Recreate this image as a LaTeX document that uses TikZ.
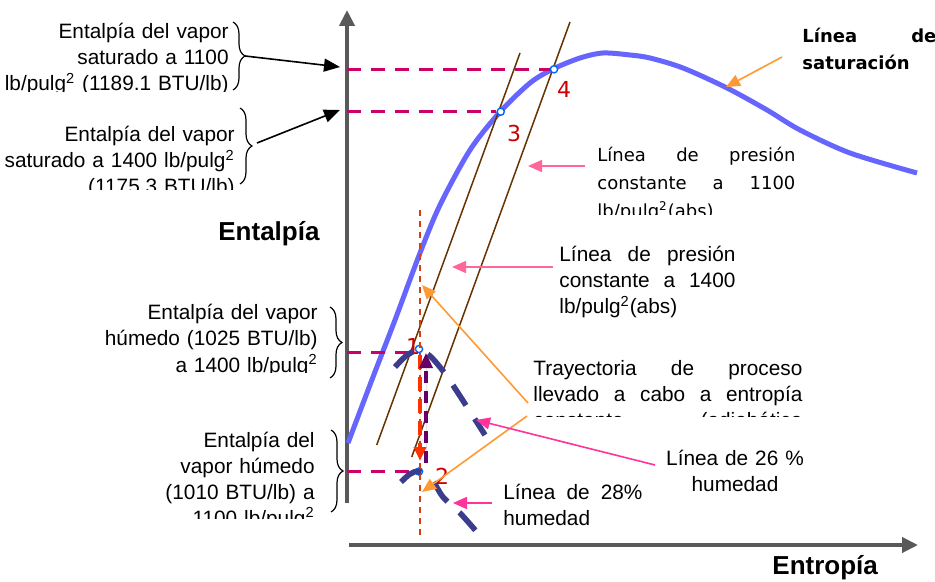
\documentclass[tikz,border=0pt]{standalone}
\usepackage{fontspec}
\setmainfont{Liberation Sans}
\newfontfamily\tahomaFont{DejaVu Sans}
\usetikzlibrary{arrows.meta,decorations.pathreplacing}

\definecolor{satBlue}{RGB}{102,102,255}
\definecolor{presBrown}{RGB}{102,51,0}
\definecolor{enthMag}{RGB}{204,0,102}
\definecolor{axisGray}{RGB}{89,89,89}
\definecolor{humBlue}{RGB}{60,60,140}
\definecolor{procRed}{RGB}{255,51,0}
\definecolor{procPurple}{RGB}{102,0,102}
\definecolor{isoRed}{RGB}{214,64,16}
\definecolor{notePink}{RGB}{255,102,153}
\definecolor{noteHot}{RGB}{255,51,153}
\definecolor{noteOrange}{RGB}{255,153,51}
\definecolor{ptBlue}{RGB}{0,102,255}
\definecolor{numRed}{RGB}{204,0,0}

\begin{document}
\begin{tikzpicture}[x=0.5pt, y=-0.5pt,
txtLeft/.style={inner sep=0, align=right, anchor=base east, font={\fontsize{10.4}{13}\selectfont}},
txtRight/.style={inner sep=0, align=left, anchor=base west, font={\fontsize{10.4}{13}\selectfont}},
txtTah/.style={inner sep=0, align=left, anchor=base west, font={\tahomaFont\fontsize{9}{14}\selectfont}},
txtTahBold/.style={inner sep=0, align=left, anchor=base west, font={\tahomaFont\bfseries\fontsize{9}{13.5}\selectfont}},
axisLbl/.style={inner sep=0, anchor=base west, font={\bfseries\fontsize{13}{15}\selectfont}},
numLbl/.style={inner sep=0, text=numRed, font={\tahomaFont\fontsize{11}{13}\selectfont}},
axisLine/.style={draw=axisGray, line width=2pt, -{Triangle[length=8pt, width=7.5pt]}},
lineSat/.style={draw=satBlue, line width=2.5pt, line join=round},
linePres/.style={draw=presBrown, line width=0.75pt},
lineEnth/.style={draw=enthMag, line width=1.5pt, dash pattern=on 7pt off 5pt},
lineIso/.style={draw=isoRed, line width=1pt, dash pattern=on 3pt off 2.5pt},
lineHum/.style={draw=humBlue, line width=2.8pt, dash pattern=on 12pt off 8pt},
arrProcDown/.style={draw=procRed, fill=procRed, line width=1.8pt, dash pattern=on 7pt off 4pt, -{Triangle[length=7pt, width=6pt]}},
arrProcUp/.style={draw=procPurple, fill=procPurple, line width=1.7pt, dash pattern=on 6pt off 4pt, -{Triangle[length=7.5pt, width=6.5pt]}},
arrBlack/.style={draw=black, line width=0.8pt, -{Triangle[length=8pt, width=6.5pt]}},
arrPink/.style={draw=notePink, line width=0.8pt, -{Triangle[length=7pt, width=6pt]}},
arrHot/.style={draw=noteHot, line width=0.8pt, -{Triangle[length=7pt, width=6pt]}},
arrOrange/.style={draw=noteOrange, line width=0.8pt, -{Triangle[length=7pt, width=6pt]}},
braceLine/.style={draw=black, line width=0.6pt, decorate, decoration={brace, amplitude=6pt}},
ptCirc/.style={circle, draw=ptBlue, fill=white, line width=0.7pt, inner sep=0, minimum size=3.6pt}]

\useasboundingbox (0,0) rectangle (935,582);

% axes
\coordinate (axisBot) at (347,503);
\coordinate (axisTop) at (347,10);
\coordinate (axisLeft) at (349,545);
\coordinate (axisRight) at (918,545);
\draw[axisLine] (axisBot) -- (axisTop);
\draw[axisLine] (axisLeft) -- (axisRight);

\node[axisLbl] (lblEnth) at (218,241) {Entalpía};
\node[axisLbl] (lblEntr) at (772,574) {Entropía};

% saturation curve and constant pressure lines
\draw[lineSat] plot[smooth] coordinates {(348,443) (373,377) (395,320) (420,253) (440,205) (470,150) (500,112) (530,83) (553,69) (580,58) (603,53) (630,55) (650,58) (683,68) (727,88) (767,110) (800,130) (850,153) (917,173)};

\coordinate (presLowA) at (376.7,445);
\coordinate (presTopA) at (520,53);
\coordinate (presLowB) at (411.7,457);
\coordinate (presTopB) at (570,22);
\draw[linePres] (presLowA) -- (presTopA);
\draw[linePres] (presLowB) -- (presTopB);

% state points
\node[ptCirc] (ptThree) at (500.7,111.7) {};
\node[ptCirc] (ptFour) at (554,69.3) {};
\node[ptCirc] (ptOne) at (419,349) {};
\node[ptCirc] (ptTwo) at (419,471.5) {};

\coordinate (axisFour) at (347,69.3);
\coordinate (axisThree) at (347,111.7);
\coordinate (axisOne) at (347,352);
\coordinate (axisTwo) at (347,471.5);
\draw[lineEnth] (axisFour) -- (ptFour.west);
\draw[lineEnth] (axisThree) -- (ptThree.west);
\draw[lineEnth] (axisOne) -- (axisOne -| ptOne.west);
\draw[lineEnth] (axisTwo) -- (ptTwo.west);

\coordinate (isoTop) at (419.5,210);
\coordinate (isoBot) at (419.5,535);
\draw[lineIso] (isoTop) -- (isoBot);

\node[numLbl] (lblThree) at (514,133) {3};
\node[numLbl] (lblFour) at (564,89) {4};
\node[numLbl] (lblOne) at (413,346) {1};
\node[numLbl] (lblTwo) at (442,476) {2};

% humidity lines
\draw[lineHum] plot[smooth] coordinates {(395,367) (406,356) (418,350) (430,356) (446,375) (469,410) (485,435)};
\draw[lineHum] plot[smooth] coordinates {(401,482) (410,474) (419,471.5) (432,480) (443,497) (460,513) (476,531)};

% process arrows
\coordinate (procDownA) at (420,355);
\coordinate (procDownB) at (420,461);
\coordinate (procUpA) at (426,463);
\coordinate (procUpB) at (426,353);
\draw[arrProcDown] (procDownA) -- (procDownB);
\draw[arrProcUp] (procUpA) -- (procUpB);

% left texts
\begin{scope}
\clip (0,0) rectangle (232,91.5);
\node[txtLeft, text width=115pt] (txtSatOne) at (229,39) {Entalpía del vapor\\ saturado a 1100\\ lb/pulg\textsuperscript{2} (1189.1 BTU/lb)};
\end{scope}
\begin{scope}
\clip (0,100) rectangle (238,190);
\node[txtLeft, text width=115pt] (txtSatTwo) at (235,142) {Entalpía del vapor\\ saturado a 1400 lb/pulg\textsuperscript{2}\\ (1175.3 BTU/lb)};
\end{scope}
\begin{scope}
\clip (0,296) rectangle (322,372.5);
\node[txtLeft, text width=115pt] (txtHumOne) at (318,320) {Entalpía del vapor\\ húmedo (1025 BTU/lb)\\ a 1400 lb/pulg\textsuperscript{2}};
\end{scope}
\begin{scope}
\clip (0,425) rectangle (320,518);
\node[txtLeft, text width=115pt] (txtHumTwo) at (315,447) {Entalpía del\\ vapor húmedo\\ (1010 BTU/lb) a\\ 1100 lb/pulg\textsuperscript{2}};
\end{scope}

\coordinate (brOneTop) at (233,22);
\coordinate (brOneBot) at (233,90);
\coordinate (brOneTip) at (245,56);
\coordinate (brTwoTop) at (240,108);
\coordinate (brTwoBot) at (240,184);
\coordinate (brTwoTip) at (257,143);
\coordinate (brThreeTop) at (330,307);
\coordinate (brThreeBot) at (330,378);
\coordinate (brFourTop) at (331,430);
\coordinate (brFourBot) at (331,512);
\draw[braceLine] (brOneTop) -- (brOneBot);
\draw[braceLine] (brTwoTop) -- (brTwoBot);
\draw[braceLine] (brThreeTop) -- (brThreeBot);
\draw[braceLine] (brFourTop) -- (brFourBot);

\coordinate (axisSatOne) at (340,67);
\coordinate (axisSatTwo) at (340,110);
\draw[arrBlack] (brOneTip) -- (axisSatOne);
\draw[arrBlack] (brTwoTip) -- (axisSatTwo);

% right texts
\node[txtTahBold, text width=67pt] (txtSatLine) at (802,42.7) {Línea \hfill de\\ saturación};
\begin{scope}
\clip (590,140) rectangle (805,215);
\node[txtTah, text width=99pt] (txtPresOne) at (597,162) {Línea \hfill de \hfill presión\\ constante \hfill a \hfill 1100\\ lb/pulg\textsuperscript{2}(abs)};
\end{scope}
\begin{scope}
\clip (550,240) rectangle (740,317);
\node[txtRight, text width=88pt] (txtPresTwo) at (559,262) {Línea \hfill de \hfill presión\\ constante \hfill a \hfill 1400\\ lb/pulg\textsuperscript{2}(abs)};
\end{scope}
\begin{scope}
\clip (525,355) rectangle (810,416);
\node[txtRight, text width=134.5pt] (txtProc) at (533,375) {Trayectoria \hfill de \hfill proceso\\ llevado \hfill a \hfill cabo \hfill a \hfill entropía\\ constante \hfill (adiabática};
\end{scope}
\node[txtRight, align=center, anchor=base, text width=75pt] (txtHumSix) at (735,465) {Línea de 26 \%\\ humedad};
\node[txtRight, text width=69.5pt] (txtHumEight) at (503,499) {Línea \hfill de \hfill 28\%\\ humedad};

% annotation arrows
\coordinate (noteSatTail) at (782,57);
\coordinate (noteSatTip) at (726,87);
\coordinate (notePresOneTail) at (585,166);
\coordinate (notePresOneTip) at (528,166);
\coordinate (notePresTwoTail) at (553,267);
\coordinate (notePresTwoTip) at (452,267);
\coordinate (noteProcTailA) at (528,403);
\coordinate (noteProcTipA) at (422,285);
\coordinate (noteProcTailB) at (527,416);
\coordinate (noteProcTipB) at (422,492);
\coordinate (noteSixTail) at (655,465);
\coordinate (noteSixTip) at (476,420);
\coordinate (noteEightTail) at (492,503);
\coordinate (noteEightTip) at (453,503);
\draw[arrOrange] (noteSatTail) -- (noteSatTip);
\draw[arrPink] (notePresOneTail) -- (notePresOneTip);
\draw[arrPink] (notePresTwoTail) -- (notePresTwoTip);
\draw[arrOrange] (noteProcTailA) -- (noteProcTipA);
\draw[arrOrange] (noteProcTailB) -- (noteProcTipB);
\draw[arrHot] (noteSixTail) -- (noteSixTip);
\draw[arrHot] (noteEightTail) -- (noteEightTip);

\end{tikzpicture}
\end{document}
